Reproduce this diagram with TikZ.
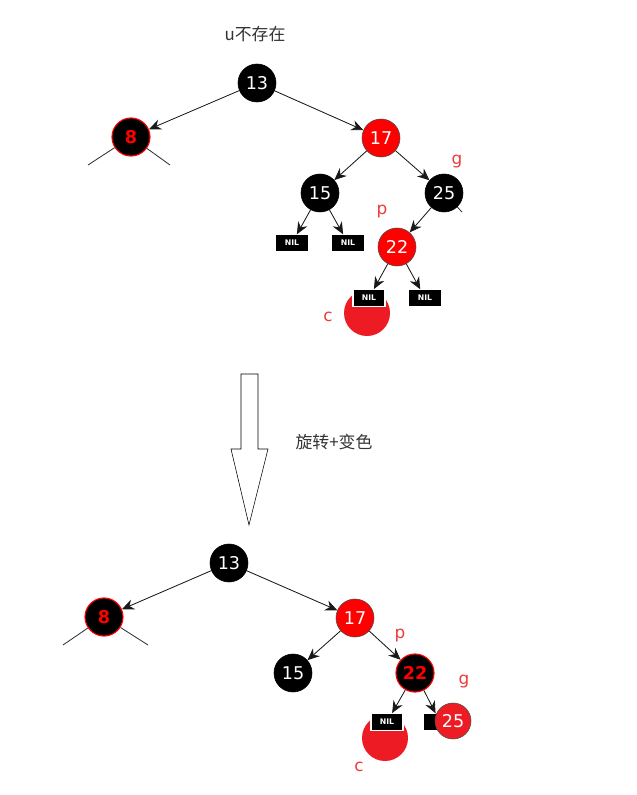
\documentclass[tikz,border=0pt]{standalone}
\usepackage{fontspec}
\setmainfont{DejaVu Sans}
\newfontfamily\cjk{Noto Sans CJK SC}
\usetikzlibrary{arrows.meta}
\definecolor{cred}{HTML}{ED1C24}
\definecolor{lred}{HTML}{EE3B3B}
\definecolor{txtgray}{HTML}{333333}

\begin{document}
\begin{tikzpicture}[x=0.025cm, y=-0.025cm,
	blacknode/.style={circle, fill=black, draw=black, text=white, minimum size=0.95cm, inner sep=0pt, font=\fontsize{12.5}{13}\selectfont},
	rednode/.style={circle, fill=red, draw=black!70, text=white, minimum size=0.95cm, inner sep=0pt, font=\fontsize{12.5}{13}\selectfont},
	rbnode/.style={circle, fill=black, draw=red, thick, text=red, minimum size=0.95cm, inner sep=0pt, font=\bfseries\fontsize{12.5}{13}\selectfont},
	nilnode/.style={rectangle, fill=black, text=white, minimum width=0.8cm, minimum height=0.42cm, inner sep=0pt, font=\bfseries\fontsize{5.5}{6}\selectfont},
	nilframed/.style={nilnode, draw=white, thick},
	cnode/.style={circle, fill=cred, minimum size=1.15cm, inner sep=0pt},
	lbl/.style={text=lred, font=\fontsize{12}{14}\selectfont},
	arr/.style={-{Stealth[length=3mm, width=2.6mm]}, line width=0.6pt, black!90},
	stub/.style={line width=0.6pt, black!80},
	]
	\useasboundingbox (0,0) rectangle (637,795);

	% Nodes (before)
	\node[text=txtgray, font=\cjk\fontsize{12}{14}\selectfont]	(title_top)		at (255, 34)	{u不存在};
	\node[blacknode]		(n13_top)		at (257, 83)	{13};
	\node[rbnode]			(n8_top)		at (131, 137)	{8};
	\node[rednode]			(n17_top)		at (381, 138)	{17};
	\node[blacknode]		(n15_top)		at (320, 193)	{15};
	\node[blacknode]		(n25_top)		at (444, 193)	{25};
	\node[rednode]			(n22_top)		at (397, 247)	{22};
	\node[nilnode]			(nil1_top)		at (292, 243)	{NIL};
	\node[nilnode]			(nil2_top)		at (348, 243)	{NIL};
	\node[cnode]			(c_top)			at (367, 313)	{};
	\node[nilframed]		(nil3_top)		at (369, 298)	{NIL};
	\node[nilnode]			(nil4_top)		at (425, 298)	{NIL};
	\node[lbl]				(g_top)			at (457, 162)	{g};
	\node[lbl]				(p_top)			at (382, 212)	{p};
	\node[lbl]				(c_lbl_top)		at (328, 317)	{c};
	\coordinate				(stub1_top)		at (88, 165);
	\coordinate				(stub2_top)		at (170, 165);
	\coordinate				(stub3_top)		at (462, 212);

	% Lines (before)
	\draw[arr] (n13_top) -- (n8_top);
	\draw[arr] (n13_top) -- (n17_top);
	\draw[arr] (n17_top) -- (n15_top);
	\draw[arr] (n17_top) -- (n25_top);
	\draw[arr] (n15_top) -- (nil1_top);
	\draw[arr] (n15_top) -- (nil2_top);
	\draw[arr] (n25_top) -- (n22_top);
	\draw[arr] (n22_top) -- (nil3_top);
	\draw[arr] (n22_top) -- (nil4_top);
	\draw[stub] (n8_top) -- (stub1_top);
	\draw[stub] (n8_top) -- (stub2_top);
	\draw[stub] (n25_top) -- (stub3_top);

	% big arrow
	\draw[thin, fill=white] (241, 374) -- (258, 374) -- (258, 449) -- (268, 449) -- (249, 525) -- (231, 449) -- (241, 449) -- cycle;
	\node[text=txtgray, font=\cjk\fontsize{12}{14}\selectfont]	(step_lbl)	at (334, 442)	{旋转+变色};

	% Nodes (after)
	\node[blacknode]		(n13_bot)		at (229, 563)	{13};
	\node[rbnode]			(n8_bot)		at (104, 617)	{8};
	\node[rednode]			(n17_bot)		at (355, 618)	{17};
	\node[blacknode]		(n15_bot)		at (293, 673)	{15};
	\node[rbnode]			(n22_bot)		at (415, 673)	{22};
	\node[cnode]			(c_bot)			at (385, 738)	{};
	\node[nilframed]		(nil3_bot)		at (387, 722)	{NIL};
	\node[nilnode]			(nil4_bot)		at (440, 722)	{};
	\node[lbl]				(p_bot)			at (400, 636)	{p};
	\node[lbl]				(g_bot)			at (464, 682)	{g};
	\node[lbl]				(c_lbl_bot)		at (359, 767)	{c};
	\coordinate				(stub1_bot)		at (63, 645);
	\coordinate				(stub2_bot)		at (148, 645);

	% Lines (after)
	\draw[arr] (n13_bot) -- (n8_bot);
	\draw[arr] (n13_bot) -- (n17_bot);
	\draw[arr] (n17_bot) -- (n15_bot);
	\draw[arr] (n17_bot) -- (n22_bot);
	\draw[arr] (n22_bot) -- (nil3_bot);
	\draw[arr] (n22_bot) -- (nil4_bot);
	\draw[stub] (n8_bot) -- (stub1_bot);
	\draw[stub] (n8_bot) -- (stub2_bot);
	\node[circle, fill=cred, draw=black!70, text=white, minimum size=0.9cm, inner sep=0pt, font=\fontsize{12.5}{13}\selectfont]	(n25_bot)	at (453, 721)	{25};
\end{tikzpicture}
\end{document}
